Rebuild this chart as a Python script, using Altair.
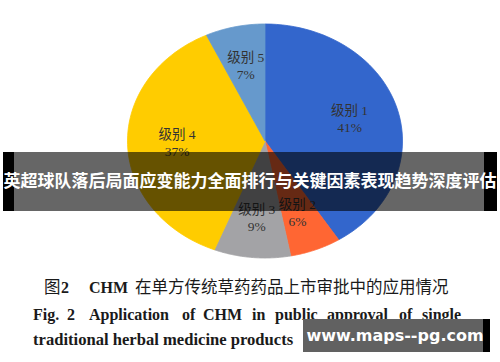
import altair as alt
import pandas as pd

# ---- data ----
categories = ["级别 1", "级别 2", "级别 3", "级别 4", "级别 5"]
shares = [41, 6, 9, 37, 7]
colors = ["#3366CC", "#FF6633", "#A3A3A6", "#FFCC00", "#6699CC"]

banner_title = "英超球队落后局面应变能力全面排行与关键因素表现趋势深度评估"
caption_cn = ["图", "2", "CHM", "在单方传统草药药品上市审批中的应用情况"]
caption_en_words = ["Fig.", "2", "Application", "of", "CHM", "in", "public", "approval", "of", "single"]
caption_en_line3 = "traditional herbal medicine products"
watermark = "www.maps--pg.com"

# ---- layout (positions / styles) ----
cn_x = [44, 61, 89, 135]
cn_bold = [False, True, True, False]
en_x = [33, 67, 89, 182, 203, 252, 275, 327, 399, 422]

SERIF = "Liberation Serif, Noto Sans CJK SC"
CJK = "Noto Sans CJK SC"

df = pd.DataFrame({"cat": categories, "value": shares, "idx": list(range(len(categories)))})

xs = alt.Scale(domain=[-1, 1], range=[127.5, 402.5])
ys = alt.Scale(domain=[-1, 1], range=[258, 24])
cs = alt.Scale(domain=categories, range=colors)

base = (
    alt.Chart(df)
    .transform_joinaggregate(total="sum(value)")
    .transform_window(cum="sum(value)", sort=[alt.SortField("idx")], frame=[None, 0])
    .transform_calculate(
        a0="2*PI*(datum.cum-datum.value)/datum.total",
        a1="2*PI*datum.cum/datum.total",
    )
)

pie = (
    base.transform_calculate(ks="sequence(-1, 63)")
    .transform_flatten(["ks"], as_=["k"])
    .transform_calculate(
        t="clamp(datum.k, 0, 60)/60",
        r="(datum.k < 0 || datum.k > 60) ? 0 : 1",
    )
    .transform_calculate(a="datum.a0 + (datum.a1 - datum.a0)*datum.t")
    .transform_calculate(px="datum.r*sin(datum.a)", py="datum.r*cos(datum.a)")
    .mark_line(strokeWidth=0.8, interpolate="linear")
    .encode(
        x=alt.X("px:Q", scale=xs, axis=None),
        y=alt.Y("py:Q", scale=ys, axis=None),
        fill=alt.Fill("cat:N", scale=cs, legend=None),
        stroke=alt.Stroke("cat:N", scale=cs, legend=None),
        order=alt.Order("k:Q"),
        detail="cat:N",
    )
)

lab = base.transform_calculate(
    mid="(datum.a0 + datum.a1)/2",
    pct="datum.value + '%'",
).transform_calculate(lx="0.64*sin(datum.mid)", ly="0.66*cos(datum.mid)")

lab1 = lab.mark_text(font=SERIF, fontSize=13.5, color="#333333", dy=-8).encode(
    x=alt.X("lx:Q", scale=xs, axis=None), y=alt.Y("ly:Q", scale=ys, axis=None), text="cat:N"
)
lab2 = lab.mark_text(font=SERIF, fontSize=13.5, color="#333333", dy=9).encode(
    x=alt.X("lx:Q", scale=xs, axis=None), y=alt.Y("ly:Q", scale=ys, axis=None), text="pct:N"
)

def txt(s, x, y, **kw):
    return alt.Chart(pd.DataFrame({"t": [s]})).mark_text(baseline="middle", **kw).encode(
        x=alt.value(x), y=alt.value(y), text="t:N"
    )

def box(x1, x2, y1, y2, color, opacity=1.0):
    return alt.Chart(pd.DataFrame({"b": [0]})).mark_rect(color=color, opacity=opacity).encode(
        x=alt.value(x1), x2=alt.value(x2), y=alt.value(y1), y2=alt.value(y2)
    )

layers = [pie, lab1, lab2]

for s, x, b in zip(caption_cn, cn_x, cn_bold):
    layers.append(
        txt(s, x, 288, align="left", font=SERIF if b else CJK,
            fontSize=16.5 if not b else 16, fontWeight="bold" if b else "normal", color="#1a1a1a")
    )
for s, x in zip(caption_en_words, en_x):
    layers.append(txt(s, x, 315, align="left", font=SERIF, fontSize=16, fontWeight="bold", color="#1a1a1a"))
layers.append(txt(caption_en_line3, 33, 340, align="left", font=SERIF, fontSize=16.6, fontWeight="bold", color="#1a1a1a"))

# banner overlay
layers.append(box(14, 484, 152, 211, "black", 0.6))
layers.append(box(3, 14, 152, 211, "black"))
layers.append(box(484, 497, 152, 211, "black"))
layers.append(txt(banner_title, 250, 182, align="center", font=CJK, fontSize=17, fontWeight="bold", color="white"))

# watermark
layers.append(box(303, 483, 319, 352, "#616161"))
layers.append(box(483, 490, 319, 352, "black"))
layers.append(txt(watermark, 395, 336, align="center", font="DejaVu Sans", fontSize=16, fontWeight="bold", color="white"))

chart = (
    alt.layer(*layers)
    .properties(width=500, height=362, padding=0, autosize=alt.AutoSizeParams(type="none"), background="white")
    .configure_view(stroke=None)
)

chart.save("out.html", embed_options={"renderer": "svg", "actions": False})
